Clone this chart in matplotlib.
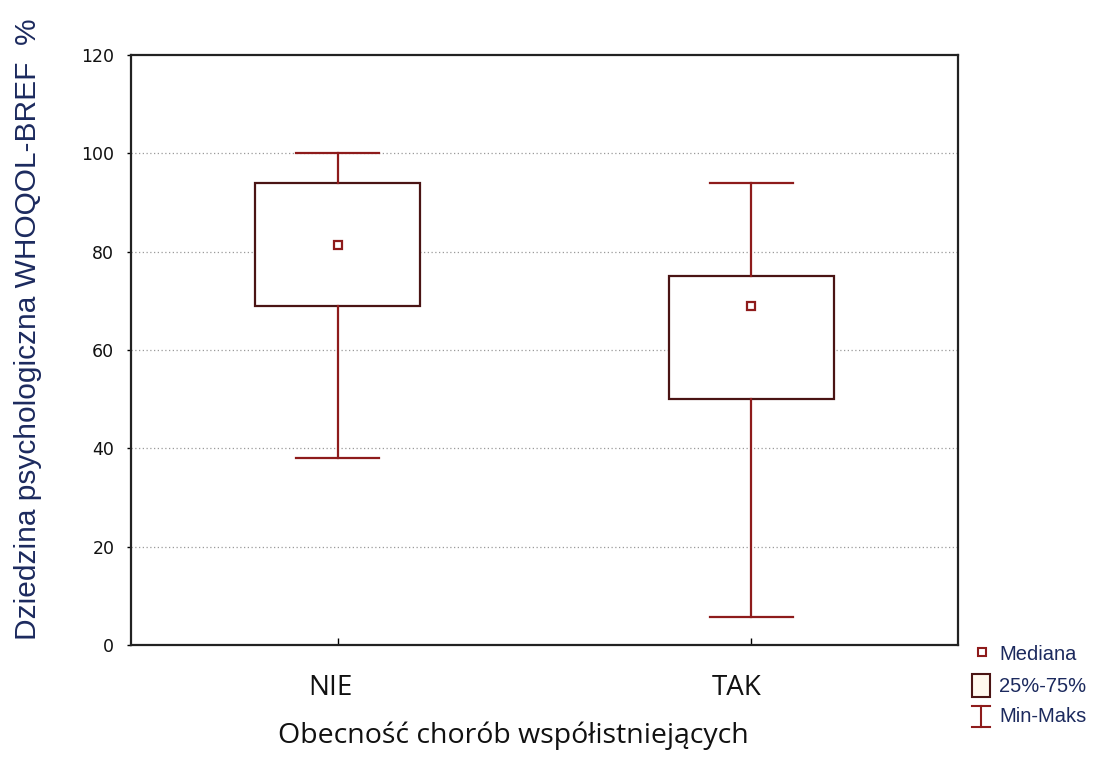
import matplotlib
matplotlib.use("Agg")
import matplotlib.pyplot as plt
import matplotlib.transforms as mtransforms
from matplotlib.lines import Line2D
from matplotlib.patches import Rectangle

categories = ["NIE", "TAK"]
medians = [81.3, 69.0]
q1 = [69.0, 50.0]
q3 = [94.0, 75.0]
mins = [38.0, 5.7]
maxs = [100.0, 94.0]

yticks = [0, 20, 40, 60, 80, 100, 120]
xlabel = "Obecność chorób współistniejących"
ylabel = "Dziedzina psychologiczna WHOQOL-BREF  %"
legend_labels = ["Mediana", "25%-75%", "Min-Maks"]

red = "#8e1b1b"
boxedge = "#4a1414"
txt = "#111111"
navy = "#1c2a5e"
W, H = 1108, 758

fig = plt.figure(figsize=(W / 100, H / 100), dpi=100)
ax = fig.add_axes([131 / W, 113 / H, 827 / W, 590 / H])

stats = []
for i, c in enumerate(categories):
    stats.append(dict(label=c, med=medians[i], q1=q1[i], q3=q3[i],
                      whislo=mins[i], whishi=maxs[i], fliers=[]))
positions = list(range(len(categories)))
ax.bxp(stats, positions=positions, widths=0.4, capwidths=0.2, patch_artist=True,
       showfliers=False,
       boxprops=dict(facecolor="white", edgecolor=boxedge, linewidth=1.6),
       whiskerprops=dict(color=red, linewidth=1.6),
       capprops=dict(color=red, linewidth=1.6),
       medianprops=dict(linewidth=0), zorder=3)
ax.plot(positions, medians, linestyle="none", marker="s", markersize=6,
        markerfacecolor="white", markeredgecolor=red, markeredgewidth=1.6, zorder=4)

ax.set_xlim(-0.5, 1.5)
ax.set_ylim(0, 120)
ax.set_yticks(yticks)
ax.set_xticks(positions)
ax.set_xticklabels(categories, fontfamily="Open Sans", fontsize=20, color=txt)
for y in yticks[1:-1]:
    ax.axhline(y, color="#9a9a9a", linestyle=(0, (1, 2)), linewidth=0.9, zorder=1)

ax.tick_params(axis="y", direction="out", length=3, pad=9, labelsize=12.5,
               labelcolor=txt, width=1)
ax.tick_params(axis="x", direction="in", length=5, pad=21, width=1)
for lab in ax.get_yticklabels():
    lab.set_fontfamily("DejaVu Sans")
for lab, dx in zip(ax.get_xticklabels(), [-7, -15]):
    lab.set_transform(lab.get_transform() +
                      mtransforms.ScaledTranslation(dx / 100, 0, fig.dpi_scale_trans))
for s in ax.spines.values():
    s.set_linewidth(1.6)
    s.set_color("#222222")

ax.set_xlabel(xlabel, fontfamily="Open Sans", fontsize=20.5, color=txt)
ax.xaxis.set_label_coords((513 - 131) / 827, -0.13)
ax.set_ylabel(ylabel, fontfamily="Liberation Sans", fontsize=21.5, color=navy)
ax.yaxis.set_label_coords(-0.108, 0.535)

# legend drawn in figure pixel coordinates
def fx(px):
    return px / W

def fy(py):
    return 1 - py / H

lw = 1.5
fig.add_artist(Line2D([fx(982)], [fy(652)], linestyle="none", marker="s", markersize=6,
                      markerfacecolor="white", markeredgecolor=red, markeredgewidth=1.5,
                      transform=fig.transFigure))
fig.add_artist(Rectangle((fx(972), fy(697)), fx(990) - fx(972), fy(674) - fy(697),
                         facecolor="#fff8ee", edgecolor=boxedge, linewidth=lw,
                         transform=fig.transFigure))
for seg in [((972, 990), (706, 706)), ((981, 981), (706, 727)), ((972, 990), (727, 727))]:
    fig.add_artist(Line2D([fx(seg[0][0]), fx(seg[0][1])], [fy(seg[1][0]), fy(seg[1][1])],
                          color=red, linewidth=lw, transform=fig.transFigure))
for label, yc in zip(legend_labels, [655, 686, 717]):
    fig.text(fx(999), fy(yc), label, ha="left", va="center", fontsize=14.5,
             family="Liberation Sans", color=navy)

fig.savefig("out.png", dpi=100, facecolor="white")
